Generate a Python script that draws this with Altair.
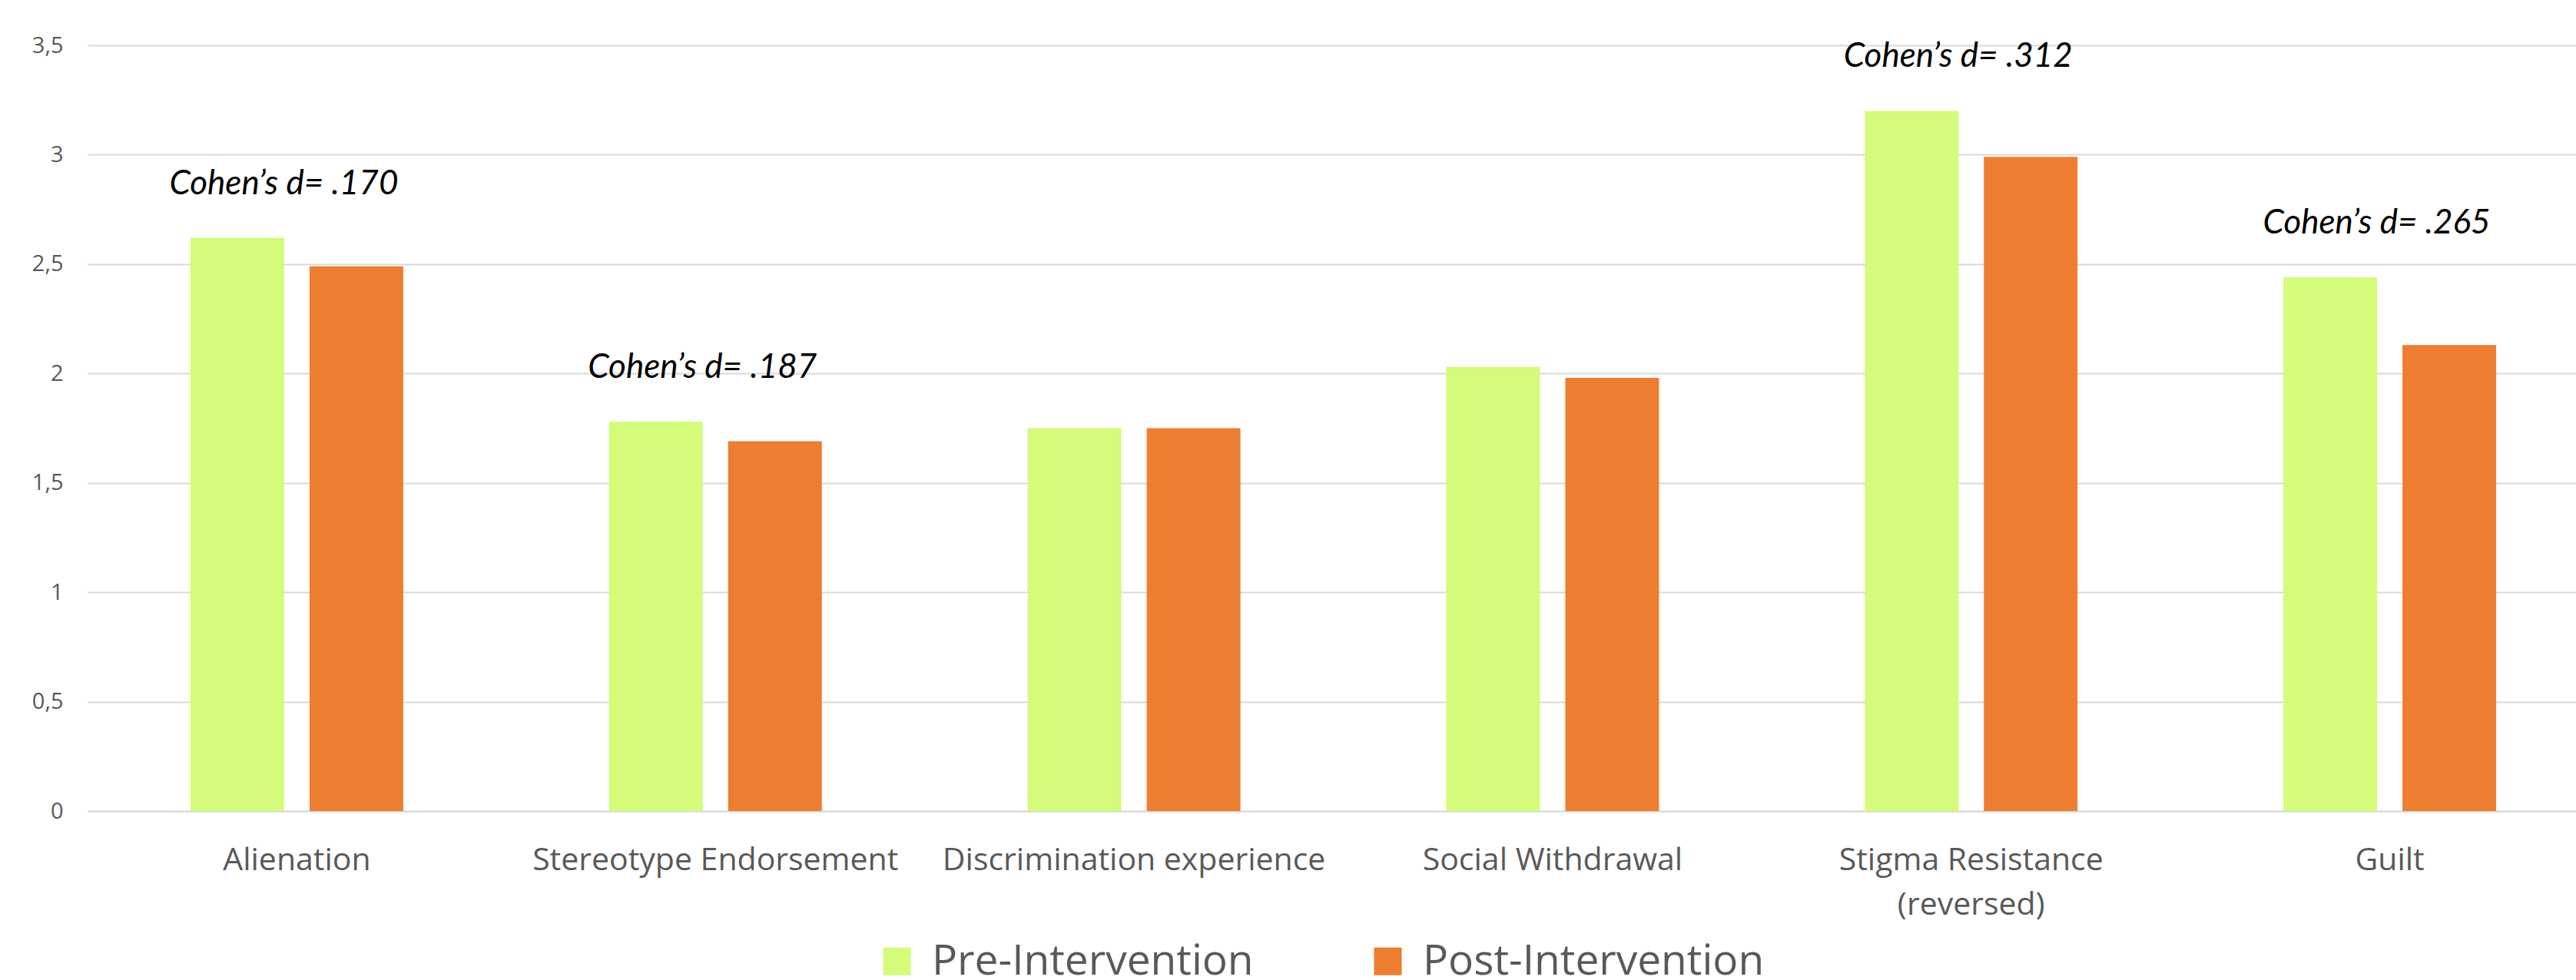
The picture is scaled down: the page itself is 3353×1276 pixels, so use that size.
import altair as alt
import pandas as pd

categories = ["Alienation", "Stereotype Endorsement", "Discrimination experience",
              "Social Withdrawal", "Stigma Resistance (reversed)", "Guilt"]
pre_values = [2.62, 1.78, 1.75, 2.03, 3.20, 2.44]
post_values = [2.49, 1.69, 1.75, 1.98, 2.99, 2.13]
series = ["Pre-Intervention", "Post-Intervention"]
colors = ["#D4FB79", "#ED7D31"]
y_ticks = [0, 0.5, 1, 1.5, 2, 2.5, 3, 3.5]

cohen_categories = ["Alienation", "Stereotype Endorsement", "Stigma Resistance (reversed)", "Guilt"]
cohen_labels = ["Cohen\u2019s d= .170", "Cohen\u2019s d= .187", "Cohen\u2019s d= .312", "Cohen\u2019s d= .265"]

rows = []
for c, a, b in zip(categories, pre_values, post_values):
    rows.append({"category": c, "series": series[0], "value": a})
    rows.append({"category": c, "series": series[1], "value": b})
df = pd.DataFrame(rows)

pre_map = dict(zip(categories, pre_values))
ann = pd.DataFrame({
    "category": cohen_categories,
    "label": cohen_labels,
    "pre": [pre_map[c] for c in cohen_categories],
})

x_scale = alt.Scale(domain=categories, range=[0, 3269], paddingInner=0, paddingOuter=0)
y_scale = alt.Scale(domain=[0, 3.5], nice=False, zero=True)

bars = alt.Chart(df).mark_bar().encode(
    x=alt.X("category:N", sort=categories, scale=x_scale,
            axis=alt.Axis(title=None, labelAngle=0, ticks=False, domain=True,
                          domainColor="#D9D9D9", domainWidth=2,
                          labelFont="Open Sans", labelFontSize=41, labelColor="#595959",
                          labelPadding=44, labelBaseline="top", labelLineHeight=58,
                          labelLimit=1000,
                          labelExpr="datum.value == 'Stigma Resistance (reversed)' ? ['Stigma Resistance', '(reversed)'] : datum.label")),
    xOffset=alt.XOffset("series:N", sort=series,
                        scale=alt.Scale(domain=series, paddingInner=0.213, paddingOuter=0.864)),
    y=alt.Y("value:Q", scale=y_scale,
            axis=alt.Axis(title=None, values=y_ticks, grid=True, gridColor="#D9D9D9", gridWidth=2,
                          domain=False, ticks=False, labelFont="Open Sans", labelFontSize=29,
                          labelColor="#595959", labelPadding=32,
                          labelExpr="replace(format(datum.value, ''), '.', ',')")),
    color=alt.Color("series:N", sort=series, scale=alt.Scale(domain=series, range=colors),
                    legend=alt.Legend(title=None, orient="none", legendX=1026, legendY=1165,
                                      direction="horizontal", symbolType="square",
                                      symbolSize=1296, symbolStrokeWidth=0,
                                      labelFont="Open Sans", labelFontSize=55,
                                      labelColor="#595959", labelOffset=18,
                                      columnPadding=147, labelLimit=1000, padding=0)),
)

texts = alt.Chart(ann).transform_calculate(
    ypos="datum.pre + 0.2"
).mark_text(font="Lato", fontStyle="italic", fontSize=44, color="#000000",
            align="center", baseline="alphabetic", dx=-17).encode(
    x=alt.X("category:N", sort=categories, scale=x_scale),
    y=alt.Y("ypos:Q", scale=y_scale),
    text="label:N",
)

chart = alt.layer(bars, texts).properties(
    width=3239, height=997,
    autosize=alt.AutoSizeParams(type="none"),
    padding={"left": 114, "top": 59, "right": 0, "bottom": 220},
    background="#FFFFFF",
).configure_view(stroke=None)

chart.save("out.html", embed_options={"renderer": "svg", "actions": False})
